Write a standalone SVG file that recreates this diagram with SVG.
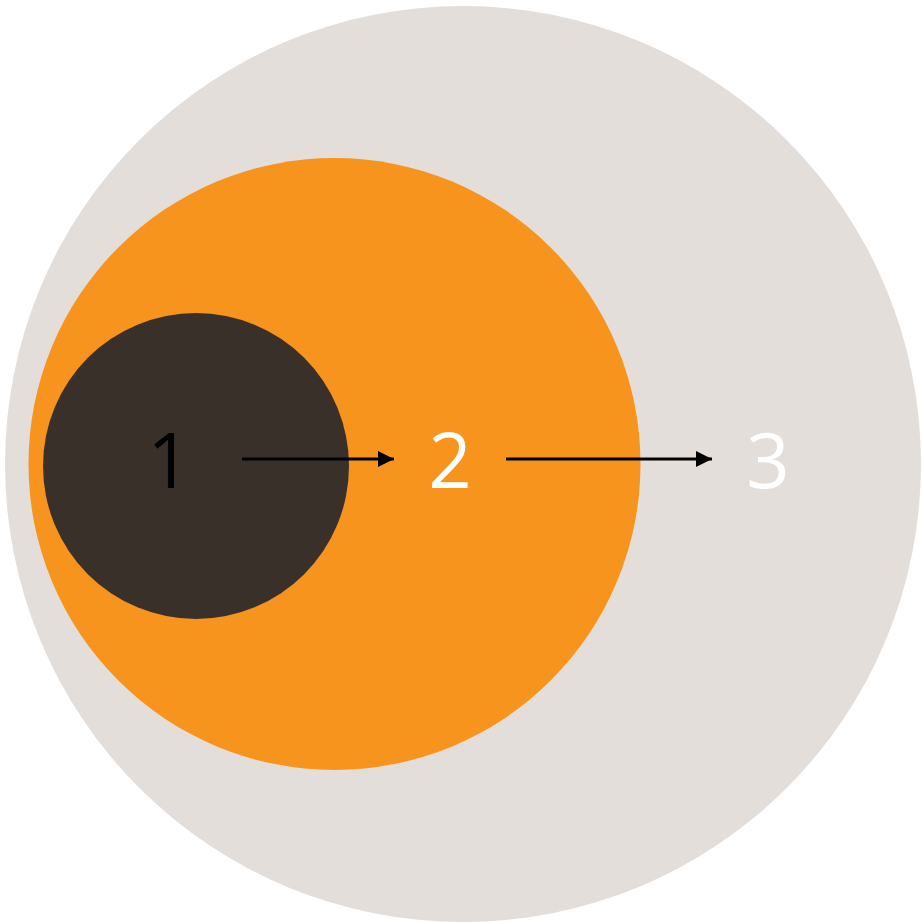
<svg xmlns="http://www.w3.org/2000/svg" width="922" height="923" viewBox="0 0 922 923">
<defs>
<style>
.num{font-family:"Open Sans","Liberation Sans",sans-serif;font-size:76px;text-anchor:middle}
.conn{stroke:#000;stroke-width:3;fill:none}
</style>
<marker id="ah" markerWidth="16" markerHeight="16" refX="16" refY="8" orient="auto" markerUnits="userSpaceOnUse">
<path d="M0,0 L16,8 L0,16 Z" fill="#000"/>
</marker>
</defs>
<rect width="922" height="923" fill="#fff"/>
<g id="n3"><circle cx="463" cy="464" r="458" fill="#e4dedb"/><text class="num" x="768" y="488" fill="#fff">3</text></g>
<g id="n2"><circle cx="334.5" cy="464" r="306" fill="#f7941d"/><text class="num" x="450" y="488" fill="#fff">2</text></g>
<g id="n1"><circle cx="196" cy="466" r="153" fill="#3a302a"/><text class="num" x="169" y="488" fill="#000">1</text></g>
<g id="connectors">
<line class="conn" x1="242" y1="459" x2="394" y2="459" marker-end="url(#ah)"/>
<line class="conn" x1="506" y1="459" x2="712" y2="459" marker-end="url(#ah)"/>
</g>
</svg>
